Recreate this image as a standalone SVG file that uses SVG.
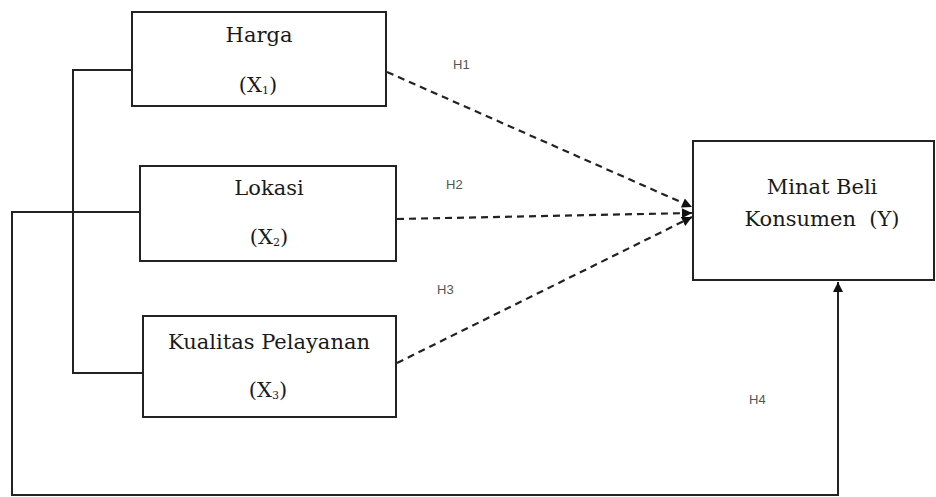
<svg xmlns="http://www.w3.org/2000/svg" width="936" height="497" viewBox="0 0 936 497">
<style>
.box{fill:#fff;stroke:#222;stroke-width:2}
.t{font-family:"DejaVu Serif","Liberation Serif",serif;font-size:21px;fill:#1a1a1a;text-anchor:middle}
.sub{font-size:11px}
.h{font-family:"Liberation Sans","DejaVu Sans",sans-serif;font-size:13px;fill:#555}
.ln{fill:none;stroke:#222;stroke-width:2}
.dash{fill:none;stroke:#222;stroke-width:2.2;stroke-dasharray:7 5}
</style>
<defs>
<marker id="ah" viewBox="0 0 10 10" refX="10" refY="5" markerWidth="11" markerHeight="10" markerUnits="userSpaceOnUse" orient="auto">
<path d="M0,0 L10,5 L0,10 z" fill="#111"/>
</marker>
</defs>
<rect width="936" height="497" fill="#fff"/>
<g id="connectors">
<polyline class="ln" points="132,70 73,70 73,373 143,373"/>
<polyline class="ln" points="140,212 12,212 12,495 838,495 838,282" marker-end="url(#ah)"/>
<line class="dash" x1="387" y1="72" x2="692" y2="207" marker-end="url(#ah)"/>
<line class="dash" x1="397" y1="219" x2="692" y2="213" marker-end="url(#ah)"/>
<line class="dash" x1="397" y1="363" x2="692" y2="217" marker-end="url(#ah)"/>
<text class="h" x="453" y="69">H1</text>
<text class="h" x="446" y="189">H2</text>
<text class="h" x="437" y="294">H3</text>
<text class="h" x="749" y="404">H4</text>
</g>
<g id="harga">
<rect class="box" x="132" y="12" width="254" height="94"/>
<text class="t" x="259" y="42">Harga</text>
<text class="t" x="258" y="92">(X<tspan class="sub" dy="2">1</tspan><tspan dy="-2">)</tspan></text>
</g>
<g id="lokasi">
<rect class="box" x="140" y="166" width="256" height="95"/>
<text class="t" x="269" y="195">Lokasi</text>
<text class="t" x="269" y="244">(X<tspan class="sub" dy="2">2</tspan><tspan dy="-2">)</tspan></text>
</g>
<g id="kualitas">
<rect class="box" x="143" y="316" width="253" height="101"/>
<text class="t" x="269" y="349">Kualitas Pelayanan</text>
<text class="t" x="268" y="397">(X<tspan class="sub" dy="2">3</tspan><tspan dy="-2">)</tspan></text>
</g>
<g id="minat">
<rect class="box" x="693" y="141" width="241" height="139"/>
<text class="t" x="822" y="194">Minat Beli</text>
<text class="t" x="822" y="226" xml:space="preserve">Konsumen  (Y)</text>
</g>
</svg>
